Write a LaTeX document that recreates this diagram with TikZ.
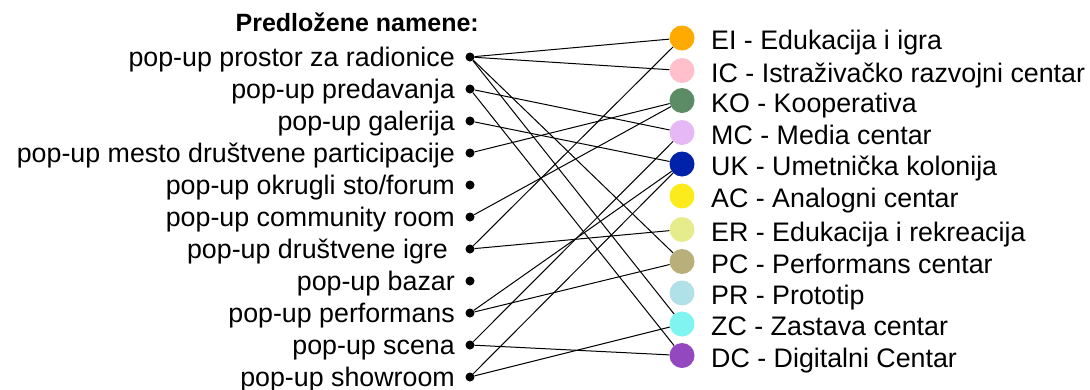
\documentclass[tikz,border=0pt]{standalone}
\usepackage{fontspec}
\setmainfont{Liberation Sans}
\usetikzlibrary{positioning}
\definecolor{clrei}{HTML}{FFAA00}
\definecolor{clric}{HTML}{FFC0CB}
\definecolor{clrko}{HTML}{5B8C65}
\definecolor{clrmc}{HTML}{E6B8F5}
\definecolor{clruk}{HTML}{0022A8}
\definecolor{clrac}{HTML}{FCEB1C}
\definecolor{clrer}{HTML}{E6EC8C}
\definecolor{clrpc}{HTML}{B8AF7A}
\definecolor{clrpr}{HTML}{B0E0E8}
\definecolor{clrzc}{HTML}{80F4F0}
\definecolor{clrdc}{HTML}{9448C0}

\begin{document}
\begin{tikzpicture}[
    x=1pt, y=-1pt,
    every node/.style={font=\fontsize{26.8}{30}\selectfont},
    usage/.style={circle, fill=black, inner sep=0pt, minimum size=9pt},
    hub/.style={circle, inner sep=0pt, minimum size=25pt},
    usagelabel/.style={anchor=base east, inner sep=0pt},
    hublabel/.style={anchor=base west, inner sep=0pt},
    link/.style={black, line width=1pt},
    title/.style={anchor=base east, inner sep=0pt, font=\bfseries\fontsize{25}{30}\selectfont},
]
\useasboundingbox (0,0) rectangle (1090,389);
\node[title] (t_0) at (479,31.5) {Predložene namene:};
\node[usage] (u_1) at (470,57) {};
\node[usage] (u_2) at (470,89) {};
\node[usage] (u_3) at (470,121) {};
\node[usage] (u_4) at (470,153) {};
\node[usage] (u_5) at (470,185) {};
\node[usage] (u_6) at (470,217) {};
\node[usage] (u_7) at (470,249) {};
\node[usage] (u_8) at (470,281) {};
\node[usage] (u_9) at (470,313) {};
\node[usage] (u_10) at (470,345) {};
\node[usage] (u_11) at (470,377) {};
\node[usagelabel] (t_1) at (455,66.5) {pop-up prostor za radionice};
\node[usagelabel] (t_2) at (455,98.5) {pop-up predavanja};
\node[usagelabel] (t_3) at (455,130.5) {pop-up galerija};
\node[usagelabel] (t_4) at (455,162.5) {pop-up mesto društvene participacije};
\node[usagelabel] (t_5) at (455,194.5) {pop-up okrugli sto/forum};
\node[usagelabel] (t_6) at (455,226.5) {pop-up community room};
\node[usagelabel] (t_7) at (448,258.5) {pop-up društvene igre};
\node[usagelabel] (t_8) at (455,290.5) {pop-up bazar};
\node[usagelabel] (t_9) at (455,322.5) {pop-up performans};
\node[usagelabel] (t_10) at (455,354.5) {pop-up scena};
\node[usagelabel] (t_11) at (455,386.5) {pop-up showroom};
\node[hub, fill=clrei] (c_1) at (682,38) {};
\node[hub, fill=clric] (c_2) at (682,70.5) {};
\node[hub, fill=clrko] (c_3) at (682,100.5) {};
\node[hub, fill=clrmc] (c_4) at (682,132.5) {};
\node[hub, fill=clruk] (c_5) at (682,164) {};
\node[hub, fill=clrac] (c_6) at (682,196) {};
\node[hub, fill=clrer] (c_7) at (682,229.5) {};
\node[hub, fill=clrpc] (c_8) at (682,261.5) {};
\node[hub, fill=clrpr] (c_9) at (682,293) {};
\node[hub, fill=clrzc] (c_10) at (682,324) {};
\node[hub, fill=clrdc] (c_11) at (682,355.5) {};
\node[hublabel] (h_1) at (711,49.5) {EI - Edukacija i igra};
\node[hublabel] (h_2) at (711,82) {IC - Istraživačko razvojni centar};
\node[hublabel] (h_3) at (711,112) {KO - Kooperativa};
\node[hublabel] (h_4) at (711,144) {MC - Media centar};
\node[hublabel] (h_5) at (711,175.5) {UK - Umetnička kolonija};
\node[hublabel] (h_6) at (711,207.5) {AC - Analogni centar};
\node[hublabel] (h_7) at (711,241) {ER - Edukacija i rekreacija};
\node[hublabel] (h_8) at (711,273) {PC - Performans centar};
\node[hublabel] (h_9) at (711,304.5) {PR - Prototip};
\node[hublabel] (h_10) at (711,335.5) {ZC - Zastava centar};
\node[hublabel] (h_11) at (711,367) {DC - Digitalni Centar};
\draw[link] (u_1) -- (c_1);
\draw[link] (u_1) -- (c_2);
\draw[link] (u_1) -- (c_8);
\draw[link] (u_1) -- (c_10);
\draw[link] (u_2) -- (c_4);
\draw[link] (u_2) -- (c_11);
\draw[link] (u_3) -- (c_5);
\draw[link] (u_4) -- (c_3);
\draw[link] (u_6) -- (c_3);
\draw[link] (u_7) -- (c_1);
\draw[link] (u_7) -- (c_7);
\draw[link] (u_9) -- (c_8);
\draw[link] (u_9) -- (c_5);
\draw[link] (u_10) -- (c_11);
\draw[link] (u_10) -- (c_4);
\draw[link] (u_11) -- (c_10);
\draw[link] (u_11) -- (c_5);
\end{tikzpicture}
\end{document}
